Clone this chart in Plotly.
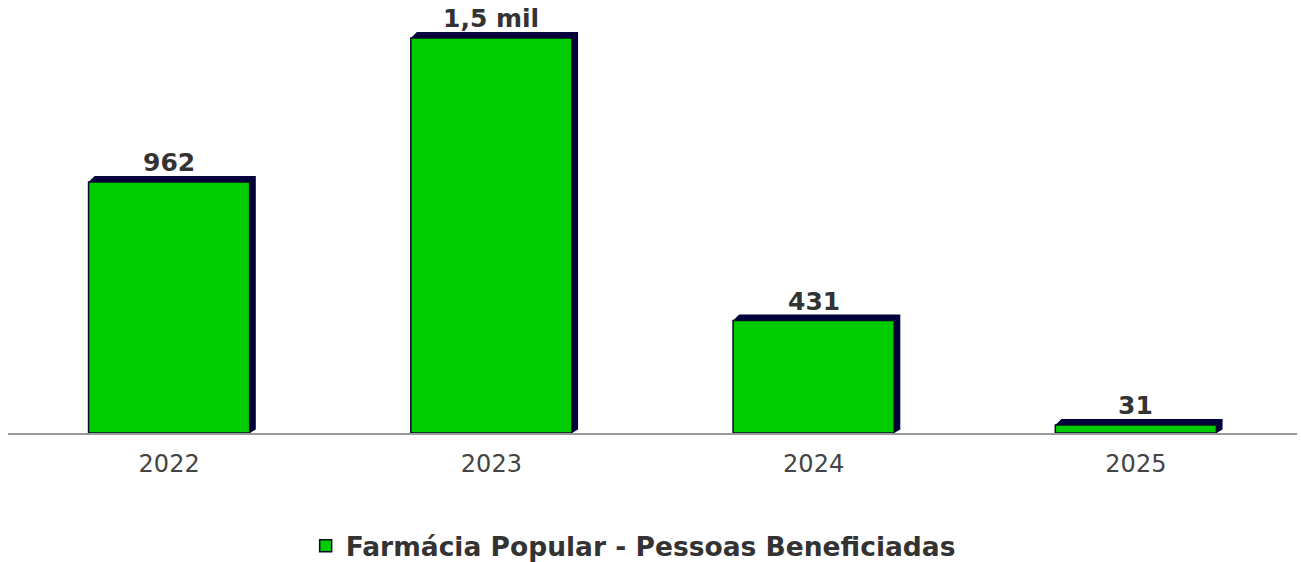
import plotly.graph_objects as go

categories = ["2022", "2023", "2024", "2025"]
values = [962, 1514, 431, 31]
labels = ["962", "1,5 mil", "431", "31"]
series_name = "Farmácia Popular - Pessoas Beneficiadas"

GREEN = "#00cc00"
SHADOW = "#00003c"
BAR_W = 0.5
DX = 0.019   # depth offset in category units
DY = 23      # depth offset in value units
YMAX = 1621

fig = go.Figure()

xs = list(range(len(categories)))

# 3D depth (top + right faces) computed from the data, on the lower axis layer
for i, v in zip(xs, values):
    x0 = i - BAR_W / 2
    x1 = i + BAR_W / 2
    px = [x0, x0 + DX, x1 + DX, x1 + DX, x1, x0]
    py = [v, v + DY, v + DY, DY * 0.6, 0, v]
    fig.add_trace(go.Scatter(
        x=px, y=py, mode="lines", fill="toself", fillcolor=SHADOW,
        line=dict(color=SHADOW, width=0), showlegend=False, hoverinfo="skip",
        xaxis="x", yaxis="y"))

# front faces on an overlaying axis so they sit above the depth polygons
fig.add_trace(go.Bar(
    x=xs, y=values, width=BAR_W, name=series_name,
    marker=dict(color=GREEN, line=dict(color="#0a0a2a", width=1.5)),
    hoverinfo="skip", xaxis="x", yaxis="y2"))

for i, v, t in zip(xs, values, labels):
    fig.add_annotation(x=i, y=v + DY, xref="x", yref="y", text=t, showarrow=False,
                       yanchor="bottom", yshift=-3,
                       font=dict(family="DejaVu Sans", size=25, color="#333333", weight="bold"))

fig.update_layout(
    width=1301, height=562,
    margin=dict(l=8, r=4, t=10, b=129, autoexpand=False),
    paper_bgcolor="white", plot_bgcolor="white",
    barmode="overlay",
    showlegend=True,
    legend=dict(orientation="h", x=0.485, xanchor="center", y=-0.267, yanchor="middle",
                font=dict(family="DejaVu Sans", size=26.5, color="#333333", weight="bold")),
    xaxis=dict(range=[-0.5, 3.5], tickmode="array", tickvals=xs, ticktext=categories,
               showgrid=False, zeroline=False, showline=True, linecolor="#999999", linewidth=1.5,
               ticks="", ticklabelstandoff=8, automargin=False,
               tickfont=dict(family="DejaVu Sans", size=24, color="#444444")),
    yaxis=dict(range=[0, YMAX], visible=False, showgrid=False, zeroline=False),
    yaxis2=dict(range=[0, YMAX], visible=False, showgrid=False, zeroline=False,
                overlaying="y", matches="y"),
)

fig.write_html("out.html", config={"displayModeBar": False},
               post_script="document.body.style.margin='0';")
